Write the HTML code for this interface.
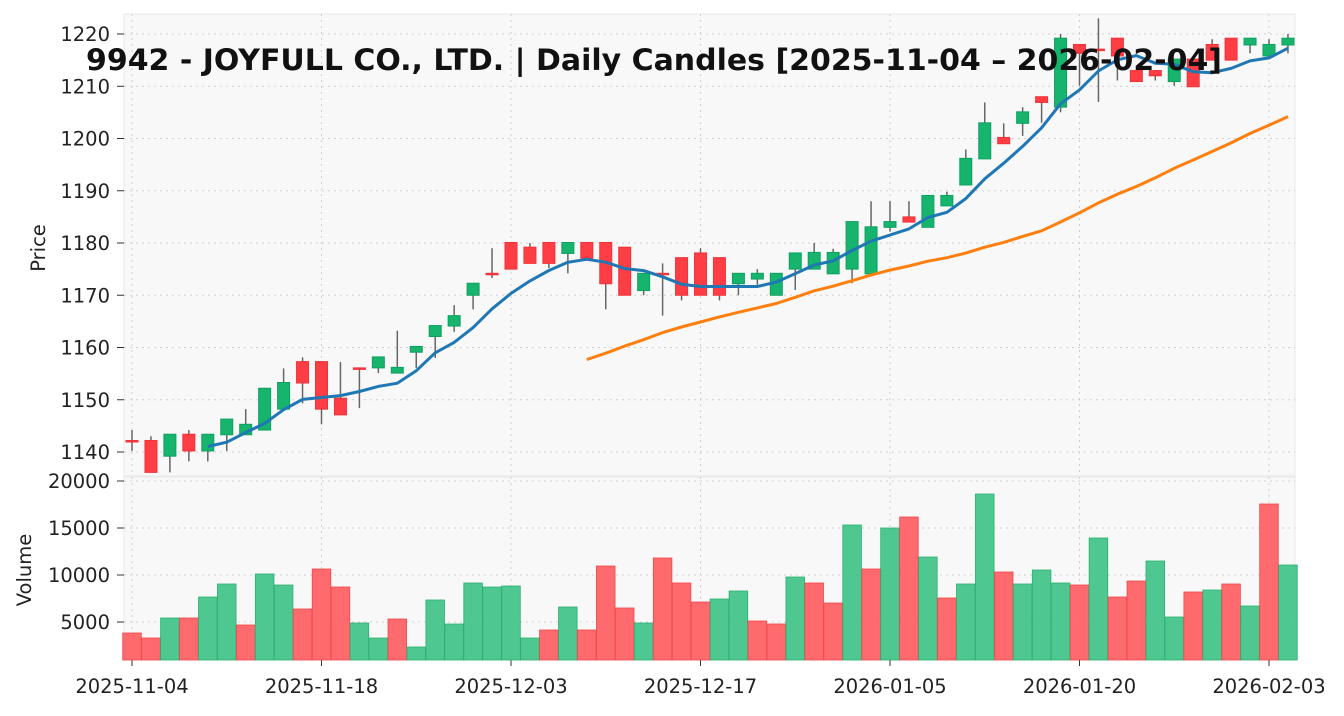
<!DOCTYPE html>
<html><head><meta charset="utf-8"><style>
body{margin:0;background:#fff;}
svg text{font-family:"DejaVu Sans","Liberation Sans",sans-serif;}
</style></head><body>
<svg id="s" width="1344" height="711" xmlns="http://www.w3.org/2000/svg"></svg>
<script>
const S=document.getElementById('s');
let h='';
const X=i=>132+i*18.95;
const Y=p=>34+(1220-p)*5.225;
const C=[
[1142.2,1142.2,1144.2,1140.2],[1142.2,1136.1,1143,1136.1],[1139.2,1143.4,1143.4,1136.1],[1143.4,1140.2,1144.2,1138.2],
[1140.2,1143.4,1143.4,1138.2],[1143.3,1146.3,1146.3,1140.2],[1143.3,1145.3,1148.2,1143.3],[1144.2,1152.2,1152.2,1144.2],
[1148.2,1153.3,1156,1148.2],[1157.3,1153.2,1158.1,1149.3],[1157.3,1148.2,1157.3,1145.3],[1150.3,1147.1,1157.2,1147.1],
[1156.1,1156.1,1156.1,1148.4],[1156.1,1158.2,1158.2,1155.1],[1155.1,1156.2,1163.2,1155.1],[1159.1,1160.2,1160.2,1156.1],
[1162.1,1164.2,1164.2,1158],[1164.1,1166.1,1168.1,1163],[1170,1172.3,1172.3,1167.3],[1174.2,1174.2,1179,1173.3],
[1180.1,1175,1180.1,1175],[1179.2,1176.1,1180,1176.1],[1180.1,1176.1,1180.1,1175.2],[1178,1180.1,1180.1,1174.2],
[1180.1,1177.1,1180.1,1177.1],[1180.1,1172.2,1180.1,1167.3],[1179.2,1170,1179.2,1170],[1170.9,1174.2,1174.2,1170],
[1174.2,1174.2,1176.1,1166.1],[1177.2,1170,1177.2,1169],[1178.1,1170,1179,1170],[1177.2,1170,1177.2,1169],
[1172.2,1174.2,1174.2,1170],[1173.1,1174.2,1175,1172],[1170,1174.2,1174.2,1170],[1175,1178.1,1178.1,1171],
[1175,1178.2,1180,1175],[1174.1,1178.2,1178.9,1174.1],[1175,1184.1,1184.1,1172.3],[1174.1,1183.1,1188,1174.1],
[1183,1184.1,1188,1182.2],[1185,1184,1188,1184],[1183,1189.1,1189.1,1183],[1187.1,1189.1,1189.8,1187.1],
[1191.1,1196.2,1197.9,1191.1],[1196.1,1203,1206.9,1196.1],[1200.2,1199,1202.9,1199],[1202.9,1205.1,1206,1200.5],
[1208,1206.9,1208,1203],[1206,1219.2,1220,1205],[1218,1216.3,1218,1210.1],[1217.1,1217.1,1223,1207],
[1219.2,1215.8,1219.2,1211.1],[1213,1210.9,1213,1210.9],[1213,1212,1213,1211.1],[1210.9,1215.2,1215.2,1210.1],
[1215.2,1209.9,1215.2,1209.9],[1218,1215,1219,1215],[1219.2,1215,1219.2,1215],[1217.9,1219.2,1219.2,1216.3],
[1215.8,1218,1219,1215.8],[1217.9,1219.2,1220,1216.3]];
const V=[[633,0],[638,0],[618,1],[618,0],[597,1],[584,1],[625,0],[574,1],[585,1],[609,0],[569,0],[587,0],[623,1],[638,1],[619,0],[647,1],[600,1],[624,1],[583,1],[587,1],[586,1],[638,1],[630,0],[607,1],[630,0],[566,0],[608,0],[623,1],[558,0],[583,0],[602,0],[599,1],[591,1],[621,0],[624,0],[577,1],[583,0],[603,0],[525,1],[569,0],[528,1],[517,0],[557,1],[598,0],[584,1],[494,1],[572,0],[584,1],[570,1],[583,1],[585,0],[538,1],[597,0],[581,0],[561,1],[617,1],[592,0],[590,1],[584,0],[606,1],[504,0],[565,1]];
h+='<rect x="124" y="14" width="1171" height="462" fill="#f8f8f8" stroke="#e8e8e8"/>';
h+='<rect x="124" y="477" width="1171" height="183" fill="#f8f8f8" stroke="#e8e8e8"/>';
const ticks=[[0,'2025-11-04'],[10,'2025-11-18'],[20,'2025-12-03'],[30,'2025-12-17'],[40,'2026-01-05'],[50,'2026-01-20'],[60,'2026-02-03']];
ticks.forEach(([i,t])=>{const x=X(i);
h+=`<line x1="${x}" y1="14" x2="${x}" y2="476" stroke="#cfcfcf" stroke-dasharray="2,4"/>`;
h+=`<line x1="${x}" y1="477" x2="${x}" y2="660" stroke="#cfcfcf" stroke-dasharray="2,4"/>`;
h+=`<line x1="${x}" y1="660" x2="${x}" y2="666" stroke="#333"/>`;
h+=`<text x="${x}" y="693" font-size="19.5" text-anchor="middle" fill="#222">${t}</text>`;});
for(let p=1140;p<=1220;p+=10){const y=Y(p);
h+=`<line x1="124" y1="${y}" x2="1295" y2="${y}" stroke="#cfcfcf" stroke-dasharray="2,4"/>`;
h+=`<line x1="117" y1="${y}" x2="124" y2="${y}" stroke="#333"/>`;
h+=`<text x="110" y="${y+7}" font-size="19.5" text-anchor="end" fill="#222">${p}</text>`;}
[[20000,481],[15000,528],[10000,575],[5000,622]].forEach(([v,y])=>{
h+=`<line x1="124" y1="${y}" x2="1295" y2="${y}" stroke="#cfcfcf" stroke-dasharray="2,4"/>`;
h+=`<line x1="117" y1="${y}" x2="124" y2="${y}" stroke="#333"/>`;
h+=`<text x="110" y="${y+7}" font-size="19.5" text-anchor="end" fill="#222">${v}</text>`;});
h+='<text transform="translate(45,248) rotate(-90)" font-size="19.5" text-anchor="middle" fill="#222">Price</text>';
h+='<text transform="translate(31,570) rotate(-90)" font-size="19.5" text-anchor="middle" fill="#222">Volume</text>';
V.forEach(([t,g],i)=>{const x=X(i)-9.3;
h+=`<rect x="${x}" y="${t}" width="18.6" height="${660-t}" fill="${g?'#3cc185':'#ff5a5f'}" fill-opacity="0.9" stroke="${g?'#2bb06f':'#f04848'}" stroke-width="0.8"/>`;});
C.forEach(([o,c,hi,lo],i)=>{const x=X(i);const g=c>o;
h+=`<line x1="${x}" y1="${Y(hi)}" x2="${x}" y2="${Y(lo)}" stroke="#666" stroke-width="1.5"/>`;
const t=Y(Math.max(o,c)),b=Y(Math.min(o,c));
h+=`<rect x="${x-6}" y="${t}" width="12" height="${Math.max(b-t,1.5)}" fill="${g?'#16b46c':'#ff3d44'}" stroke="${g?'#0fa060':'#f0333a'}" stroke-width="1"/>`;});
function ma(n,col){let pts=[];for(let i=n-1;i<C.length;i++){let s=0;for(let k=i-n+1;k<=i;k++)s+=C[k][1];pts.push(X(i).toFixed(1)+','+Y(s/n).toFixed(1));}
h+=`<polyline points="${pts.join(' ')}" fill="none" stroke="${col}" stroke-width="3" stroke-linejoin="round"/>`;}
ma(5,'#1f77b4');ma(25,'#ff7f0e');
h+='<text x="86" y="70" font-size="29" font-weight="bold" textLength="1136" lengthAdjust="spacingAndGlyphs" fill="#111">9942 - JOYFULL CO., LTD. | Daily Candles [2025-11-04 – 2026-02-04]</text>';
S.innerHTML=h;
</script>
</body></html>
